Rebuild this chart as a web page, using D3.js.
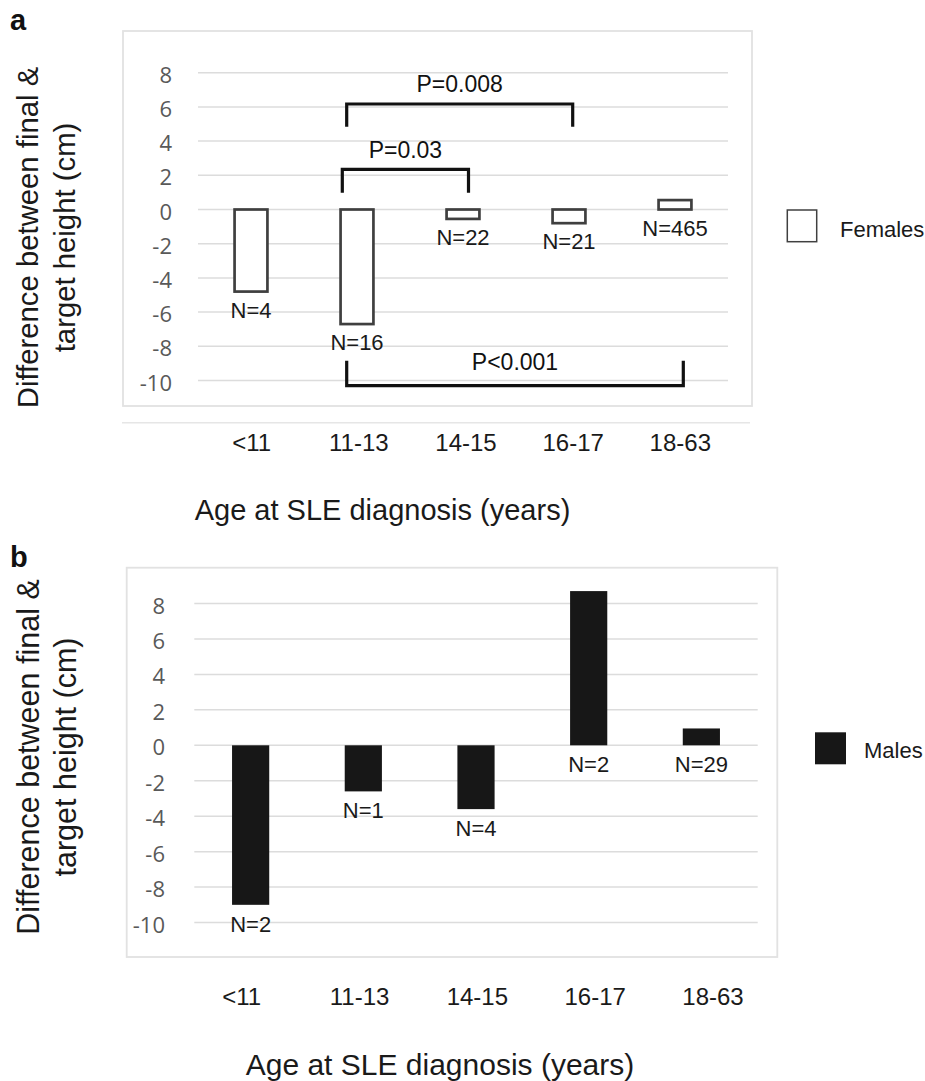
<!DOCTYPE html>
<html>
<head>
<meta charset="utf-8">
<script src="https://cdn.jsdelivr.net/npm/d3@7"></script>
<style>
  html, body { margin: 0; padding: 0; background: #fff; }
  svg { display: block; }
</style>
</head>
<body>
<svg id="chart" width="925" height="1081"></svg>
<script>
// ---------- DATA ----------
const categories = ["<11", "11-13", "14-15", "16-17", "18-63"];
const femaleValues = [-4.8, -6.7, -0.55, -0.8, 0.55];
const femaleN = ["N=4", "N=16", "N=22", "N=21", "N=465"];
const maleValues = [-9.0, -2.6, -3.6, 8.7, 0.95];
const maleN = ["N=2", "N=1", "N=4", "N=2", "N=29"];
const yTicks = [8, 6, 4, 2, 0, -2, -4, -6, -8, -10];
const brackets = [
  { from: "11-13", to: "16-17", bar: 6.17, leg: 4.84, label: "P=0.008" },
  { from: "11-13", to: "14-15", bar: 2.35, leg: 0.98, label: "P=0.03" },
  { from: "11-13", to: "18-63", bar: -10.3, leg: -8.84, label: "P<0.001" }
];
const yTitle = ["Difference between final &", "target height (cm)"];
const xTitle = "Age at SLE diagnosis (years)";

// ---------- LAYOUT ----------
const svg = d3.select("#chart");
const SANS = "'Liberation Sans', Arial, sans-serif";
const TICKFONT = "'Open Sans', sans-serif";

const panels = [
  {
    letter: "a", letterY: 30,
    values: femaleValues, ns: femaleN, legend: "Females", filled: false,
    frame: [123, 31, 752, 406], underline: [122, 750, 422.7],
    grid: [198, 728], y0: 209.5, y8: 72.7, barFrac: 0.31,
    tickRight: 172, labelRange: [251.7, 680.3], tickBase: 451,
    titleX: 382.5, titleY: 520, titleSize: 29,
    yTitleCenter: 237.5, yTitleX: [37.5, 74.5], yTitleSize: 29.3,
    nOffset: 26,
    legBox: [787.3, 210, 29.4, 31.7], legText: [840, 237.3],
    brackets: brackets,
    nudges: [[-10.3, 3.7], [-14.7, 5.5], [-10.3, 8.3]],
    labelLift: [12, 11, 15.7]
  },
  {
    letter: "b", letterY: 566.7,
    values: maleValues, ns: maleN, legend: "Males", filled: true,
    frame: [126.7, 567.7, 777.3, 957], underline: null,
    grid: [194.3, 757.7], y0: 745.3, y8: 603.5, barFrac: 0.33,
    tickRight: 165, labelRange: [241.7, 713], tickBase: 1005,
    titleX: 440, titleY: 1075, titleSize: 30,
    yTitleCenter: 757, yTitleX: [38.7, 75.5], yTitleSize: 30.5,
    nOffset: 27,
    legBox: [815, 732.3, 31, 32], legText: [864, 757.7],
    brackets: [], nudges: [], labelLift: []
  }
];

panels.forEach(p => {
  const g = svg.append("g");

  // panel letter
  g.append("text").attr("x", 10).attr("y", p.letterY)
    .attr("font-family", SANS).attr("font-weight", "bold")
    .attr("font-size", 29).attr("fill", "#111").text(p.letter);

  // frame
  g.append("rect")
    .attr("x", p.frame[0]).attr("y", p.frame[1])
    .attr("width", p.frame[2] - p.frame[0]).attr("height", p.frame[3] - p.frame[1])
    .attr("fill", "none").attr("stroke", "#e2e2e2").attr("stroke-width", 1.8);

  if (p.underline) {
    g.append("line")
      .attr("x1", p.underline[0]).attr("x2", p.underline[1])
      .attr("y1", p.underline[2]).attr("y2", p.underline[2])
      .attr("stroke", "#e6e6e6").attr("stroke-width", 1.5);
  }

  // scales
  const x = d3.scaleBand().domain(categories).range(p.grid).padding(0);
  const y = d3.scaleLinear().domain([0, 8]).range([p.y0, p.y8]);
  const xl = d3.scalePoint().domain(categories).range(p.labelRange);

  // gridlines
  g.append("g").selectAll("line").data(yTicks).join("line")
    .attr("x1", p.grid[0]).attr("x2", p.grid[1])
    .attr("y1", d => y(d)).attr("y2", d => y(d))
    .attr("stroke", "#dcdcdc").attr("stroke-width", 1.5);

  // y tick labels
  g.append("g").selectAll("text").data(yTicks).join("text")
    .attr("x", p.tickRight).attr("y", d => y(d) + 10)
    .attr("text-anchor", "end")
    .attr("font-family", TICKFONT).attr("font-size", 22)
    .attr("fill", "#595959").text(d => d);

  // bars
  const bw = x.bandwidth() * p.barFrac;
  const cx = c => x(c) + x.bandwidth() / 2;
  g.append("g").selectAll("rect").data(p.values).join("rect")
    .attr("x", (d, i) => cx(categories[i]) - bw / 2)
    .attr("y", d => y(Math.max(0, d)))
    .attr("width", bw)
    .attr("height", d => Math.abs(y(d) - y(0)))
    .attr("fill", p.filled ? "#171717" : "#fff")
    .attr("stroke", p.filled ? "none" : "#3f3f3f")
    .attr("stroke-width", p.filled ? 0 : 2.7);

  // N labels
  g.append("g").selectAll("text").data(p.ns).join("text")
    .attr("x", (d, i) => cx(categories[i]))
    .attr("y", (d, i) => y(Math.min(0, p.values[i])) + p.nOffset)
    .attr("text-anchor", "middle")
    .attr("font-family", SANS).attr("font-size", 22)
    .attr("fill", "#1a1a1a").text(d => d);

  // brackets
  p.brackets.forEach((b, i) => {
    const x1 = cx(b.from) + p.nudges[i][0];
    const x2 = cx(b.to) + p.nudges[i][1];
    const yb = y(b.bar), yl = y(b.leg);
    g.append("path")
      .attr("d", d3.line()([[x1, yl], [x1, yb], [x2, yb], [x2, yl]]))
      .attr("fill", "none").attr("stroke", "#111").attr("stroke-width", 3.2);
    g.append("text")
      .attr("x", (x1 + x2) / 2).attr("y", yb - p.labelLift[i])
      .attr("text-anchor", "middle")
      .attr("font-family", SANS).attr("font-size", 23)
      .attr("fill", "#111").text(b.label);
  });

  // x tick labels
  g.append("g").selectAll("text").data(categories).join("text")
    .attr("x", d => xl(d)).attr("y", p.tickBase)
    .attr("text-anchor", "middle")
    .attr("font-family", SANS).attr("font-size", 24)
    .attr("fill", "#1a1a1a").text(d => d);

  // x title
  g.append("text").attr("x", p.titleX).attr("y", p.titleY)
    .attr("text-anchor", "middle")
    .attr("font-family", SANS).attr("font-size", p.titleSize)
    .attr("fill", "#1a1a1a").text(xTitle);

  // y title (two rotated lines)
  yTitle.forEach((t, i) => {
    g.append("text")
      .attr("transform", `translate(${p.yTitleX[i]},${p.yTitleCenter}) rotate(-90)`)
      .attr("text-anchor", "middle")
      .attr("font-family", SANS).attr("font-size", p.yTitleSize)
      .attr("fill", "#1a1a1a").text(t);
  });

  // legend
  g.append("rect")
    .attr("x", p.legBox[0]).attr("y", p.legBox[1])
    .attr("width", p.legBox[2]).attr("height", p.legBox[3])
    .attr("fill", p.filled ? "#171717" : "#fff")
    .attr("stroke", p.filled ? "none" : "#404040")
    .attr("stroke-width", 1.5);
  g.append("text").attr("x", p.legText[0]).attr("y", p.legText[1])
    .attr("font-family", SANS).attr("font-size", 22)
    .attr("fill", "#1a1a1a").text(p.legend);
});
</script>
</body>
</html>
